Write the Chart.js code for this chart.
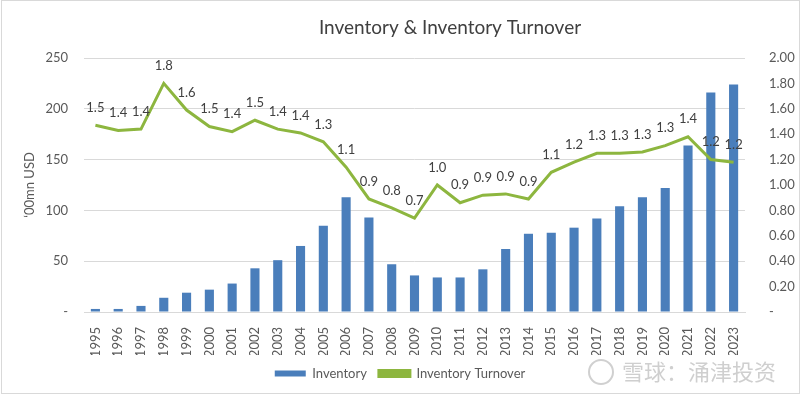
<!DOCTYPE html>
<html>
<head>
<meta charset="utf-8">
<script src="https://cdn.jsdelivr.net/npm/chart.js@4.4.1/dist/chart.umd.min.js"></script>
<style>
  html, body { margin: 0; padding: 0; background: #fff; }
  #wrap { width: 800px; height: 396px; position: relative; }
</style>
</head>
<body>
<div id="wrap"><canvas id="grafico" width="800" height="396"></canvas></div>
<script>
// dados
const anos = ['1995','1996','1997','1998','1999','2000','2001','2002','2003','2004','2005','2006','2007','2008','2009',
  '2010','2011','2012','2013','2014','2015','2016','2017','2018','2019','2020','2021','2022','2023'];
const inventory = [3, 3, 6, 14, 19, 22, 28, 43, 51, 65, 85, 113, 93, 47, 36,
  34, 34, 42, 62, 77, 78, 83, 92, 104, 113, 122, 164, 216, 224];
const turnover = [1.47, 1.43, 1.44, 1.80, 1.59, 1.46, 1.42, 1.51, 1.44, 1.41, 1.34, 1.14, 0.89, 0.82, 0.74,
  1.00, 0.86, 0.92, 0.93, 0.89, 1.10, 1.18, 1.25, 1.25, 1.26, 1.31, 1.38, 1.20, 1.18];
const ticksEsquerda = ['-', '50', '100', '150', '200', '250'];
const ticksDireita = ['-', '0.20', '0.40', '0.60', '0.80', '1.00', '1.20', '1.40', '1.60', '1.80', '2.00'];

const fonte = 'Lato, "Open Sans", sans-serif';
const cinza = '#595959';

// fundo, borda, titulo e marca d'agua
const pluginFundo = {
  id: 'fundo',
  beforeDraw(chart) {
    const ctx = chart.ctx;
    ctx.save();
    ctx.fillStyle = '#fff';
    ctx.fillRect(0, 0, chart.width, chart.height);
    ctx.strokeStyle = '#d9d9d9';
    ctx.lineWidth = 1;
    ctx.strokeRect(1.5, 0.5, chart.width - 2, chart.height - 3);
    ctx.fillStyle = '#404040';
    ctx.font = '19px ' + fonte;
    ctx.textAlign = 'center';
    ctx.textBaseline = 'middle';
    ctx.fillText('Inventory & Inventory Turnover', 450, 28);
    ctx.restore();
  },
  afterDraw(chart) {
    const ctx = chart.ctx;
    ctx.save();
    ctx.strokeStyle = '#d0d0d0';
    ctx.lineWidth = 2;
    ctx.beginPath();
    ctx.arc(601, 372, 12, 0, Math.PI * 2);
    ctx.stroke();
    ctx.fillStyle = '#cfcfcf';
    ctx.font = '22px "Noto Sans CJK SC", sans-serif';
    ctx.textAlign = 'left';
    ctx.textBaseline = 'middle';
    ctx.fillText('雪球：涌津投资', 622, 372);
    ctx.restore();
  }
};

// rotulos da linha
const pluginRotulos = {
  id: 'rotulos',
  afterDatasetsDraw(chart) {
    const ctx = chart.ctx;
    const meta = chart.getDatasetMeta(1);
    ctx.save();
    ctx.fillStyle = '#404040';
    ctx.font = '13px ' + fonte;
    ctx.textAlign = 'center';
    ctx.textBaseline = 'bottom';
    meta.data.forEach((p, i) => {
      ctx.fillText(turnover[i].toFixed(1), p.x, p.y - 11);
    });
    ctx.restore();
  }
};

new Chart(document.getElementById('grafico'), {
  data: {
    labels: anos,
    datasets: [
      {
        type: 'bar',
        label: 'Inventory',
        data: inventory,
        backgroundColor: '#4a7ebb',
        borderWidth: 0,
        yAxisID: 'y',
        categoryPercentage: 1,
        barPercentage: 0.4,
        order: 2
      },
      {
        type: 'line',
        label: 'Inventory Turnover',
        data: turnover,
        borderColor: '#8db63f',
        backgroundColor: '#8db63f',
        borderWidth: 3,
        pointRadius: 0,
        tension: 0,
        yAxisID: 'y2',
        order: 1
      }
    ]
  },
  options: {
    responsive: false,
    animation: false,
    layout: { padding: { top: 58, bottom: 6, left: 0, right: 0 } },
    plugins: {
      legend: {
        position: 'bottom',
        labels: {
          font: { family: fonte, size: 13 },
          color: cinza,
          boxWidth: 31,
          boxHeight: 6,
          padding: 12,
          sort: (a, b) => a.datasetIndex - b.datasetIndex
        }
      },
      tooltip: { enabled: false }
    },
    scales: {
      x: {
        grid: { display: false },
        border: { color: '#d9d9d9' },
        ticks: {
          font: { family: fonte, size: 13 },
          color: cinza,
          maxRotation: 90,
          minRotation: 90,
          autoSkip: false,
          padding: 7
        },
        afterFit(scale) { scale.height = 43; }
      },
      y: {
        position: 'left',
        min: 0,
        max: 250,
        grid: { color: '#d9d9d9', drawTicks: false },
        border: { display: false },
        ticks: {
          stepSize: 50,
          font: { family: fonte, size: 13 },
          color: cinza,
          padding: 16,
          callback: (v, i) => ticksEsquerda[i]
        },
        title: {
          display: true,
          text: '\u201800mn USD',
          font: { family: fonte, size: 13 },
          color: cinza,
          padding: { top: 22, bottom: 0 }
        },
        afterFit(scale) { scale.width = 84; }
      },
      y2: {
        position: 'right',
        min: 0,
        max: 2,
        grid: { display: false },
        border: { display: false },
        ticks: {
          stepSize: 0.2,
          font: { family: fonte, size: 13 },
          color: cinza,
          padding: 16,
          callback: (v, i) => ticksDireita[i]
        },
        afterFit(scale) { scale.width = 55; }
      }
    }
  },
  plugins: [pluginFundo, pluginRotulos]
});
</script>
</body>
</html>
